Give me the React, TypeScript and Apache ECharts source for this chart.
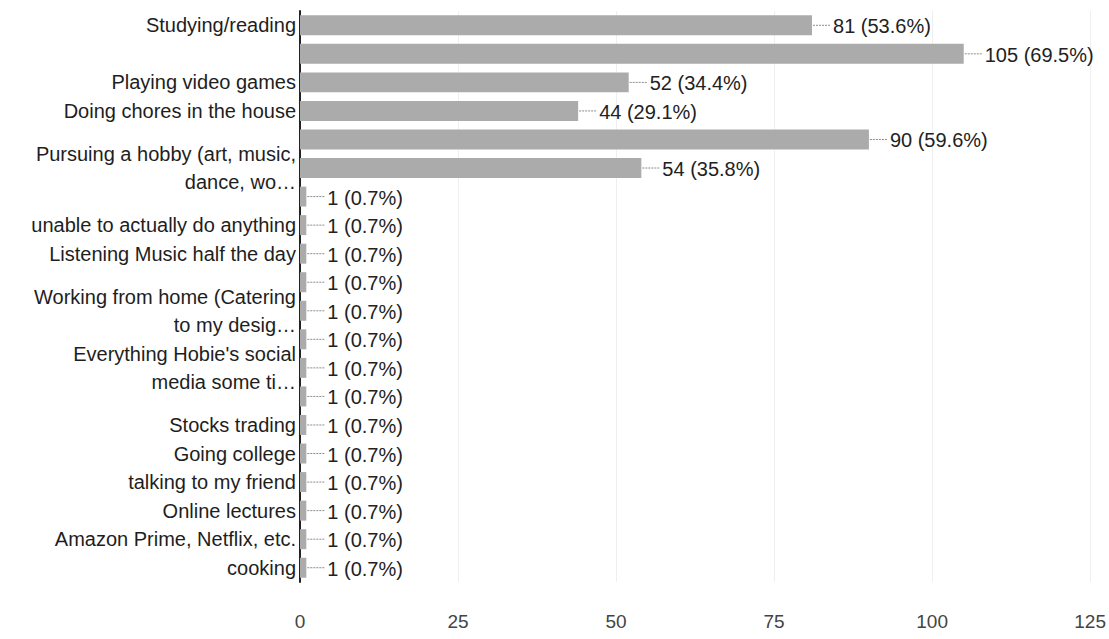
import React, { useEffect, useRef } from 'react';
import * as echarts from 'echarts';

// Survey answers, top to bottom. Empty names are rows whose label is not printed.
const activities: string[] = [
  'Studying/reading',
  '',
  'Playing video games',
  'Doing chores in the house',
  '',
  'Pursuing a hobby (art, music,\ndance, wo…',
  '',
  'unable to actually do anything',
  'Listening Music half the day',
  '',
  'Working from home (Catering\nto my desig…',
  '',
  "Everything Hobie's social\nmedia some ti…",
  '',
  'Stocks trading',
  'Going college',
  'talking to my friend',
  'Online lectures',
  'Amazon Prime, Netflix, etc.',
  'cooking',
];

const responses: number[] = [81, 105, 52, 44, 90, 54, 1, 1, 1, 1, 1, 1, 1, 1, 1, 1, 1, 1, 1, 1];

const totalRespondents = 151;

const xTicks: number[] = [0, 25, 50, 75, 100, 125];

const FONT = '"Liberation Sans", Arial, Helvetica, sans-serif';

export default function App() {
  const ref = useRef<HTMLDivElement>(null);

  useEffect(() => {
    if (!ref.current) return;
    const chart = echarts.init(ref.current, undefined, { renderer: 'svg' });
    const step = xTicks[1] - xTicks[0];

    chart.setOption({
      animation: false,
      backgroundColor: '#ffffff',
      grid: { left: 300, right: 18, top: 11, bottom: 57, containLabel: false },
      xAxis: {
        type: 'value',
        min: xTicks[0],
        max: xTicks[xTicks.length - 1],
        interval: step,
        axisLine: { show: false },
        axisTick: { show: false },
        splitLine: { show: true, lineStyle: { color: '#efefef', width: 1 } },
        axisLabel: { fontSize: 19, color: '#444', fontFamily: FONT, margin: 30 },
      },
      yAxis: {
        type: 'category',
        inverse: true,
        data: activities,
        axisLine: { show: true, lineStyle: { color: '#222', width: 2 } },
        axisTick: { show: false },
        axisLabel: {
          interval: 0,
          fontSize: 20,
          lineHeight: 28,
          color: '#1e1e1e',
          fontFamily: FONT,
          margin: 4,
          align: 'right',
          padding: [0, 0, 6, 0],
        },
      },
      series: [
        {
          type: 'bar',
          data: responses,
          barCategoryGap: '30%',
          itemStyle: { color: '#ababab' },
          silent: true,
        },
        {
          // leader line plus "count (percent)" text at each bar end
          type: 'custom',
          silent: true,
          z: 5,
          data: responses.map((v, i) => [v, i]),
          encode: { x: 0, y: 1 },
          renderItem: (_params: any, api: any) => {
            const v = api.value(0) as number;
            const i = api.value(1) as number;
            const p = api.coord([v, i]);
            const pct = ((v / totalRespondents) * 100).toFixed(1);
            return {
              type: 'group',
              children: [
                {
                  type: 'line',
                  shape: { x1: p[0] + 1, y1: p[1], x2: p[0] + 19, y2: p[1] },
                  style: { stroke: '#8c8c8c', lineWidth: 1, lineDash: [2, 1] },
                },
                {
                  type: 'text',
                  style: {
                    text: `${v} (${pct}%)`,
                    x: p[0] + 21,
                    y: p[1] + 1,
                    fill: '#222',
                    font: `20px ${FONT}`,
                    align: 'left',
                    verticalAlign: 'middle',
                  },
                },
              ],
            };
          },
        },
      ],
    });

    return () => chart.dispose();
  }, []);

  return (
    <div
      ref={ref}
      style={{ position: 'absolute', left: 0, top: 0, width: 1109, height: 639, background: '#fff' }}
    />
  );
}
